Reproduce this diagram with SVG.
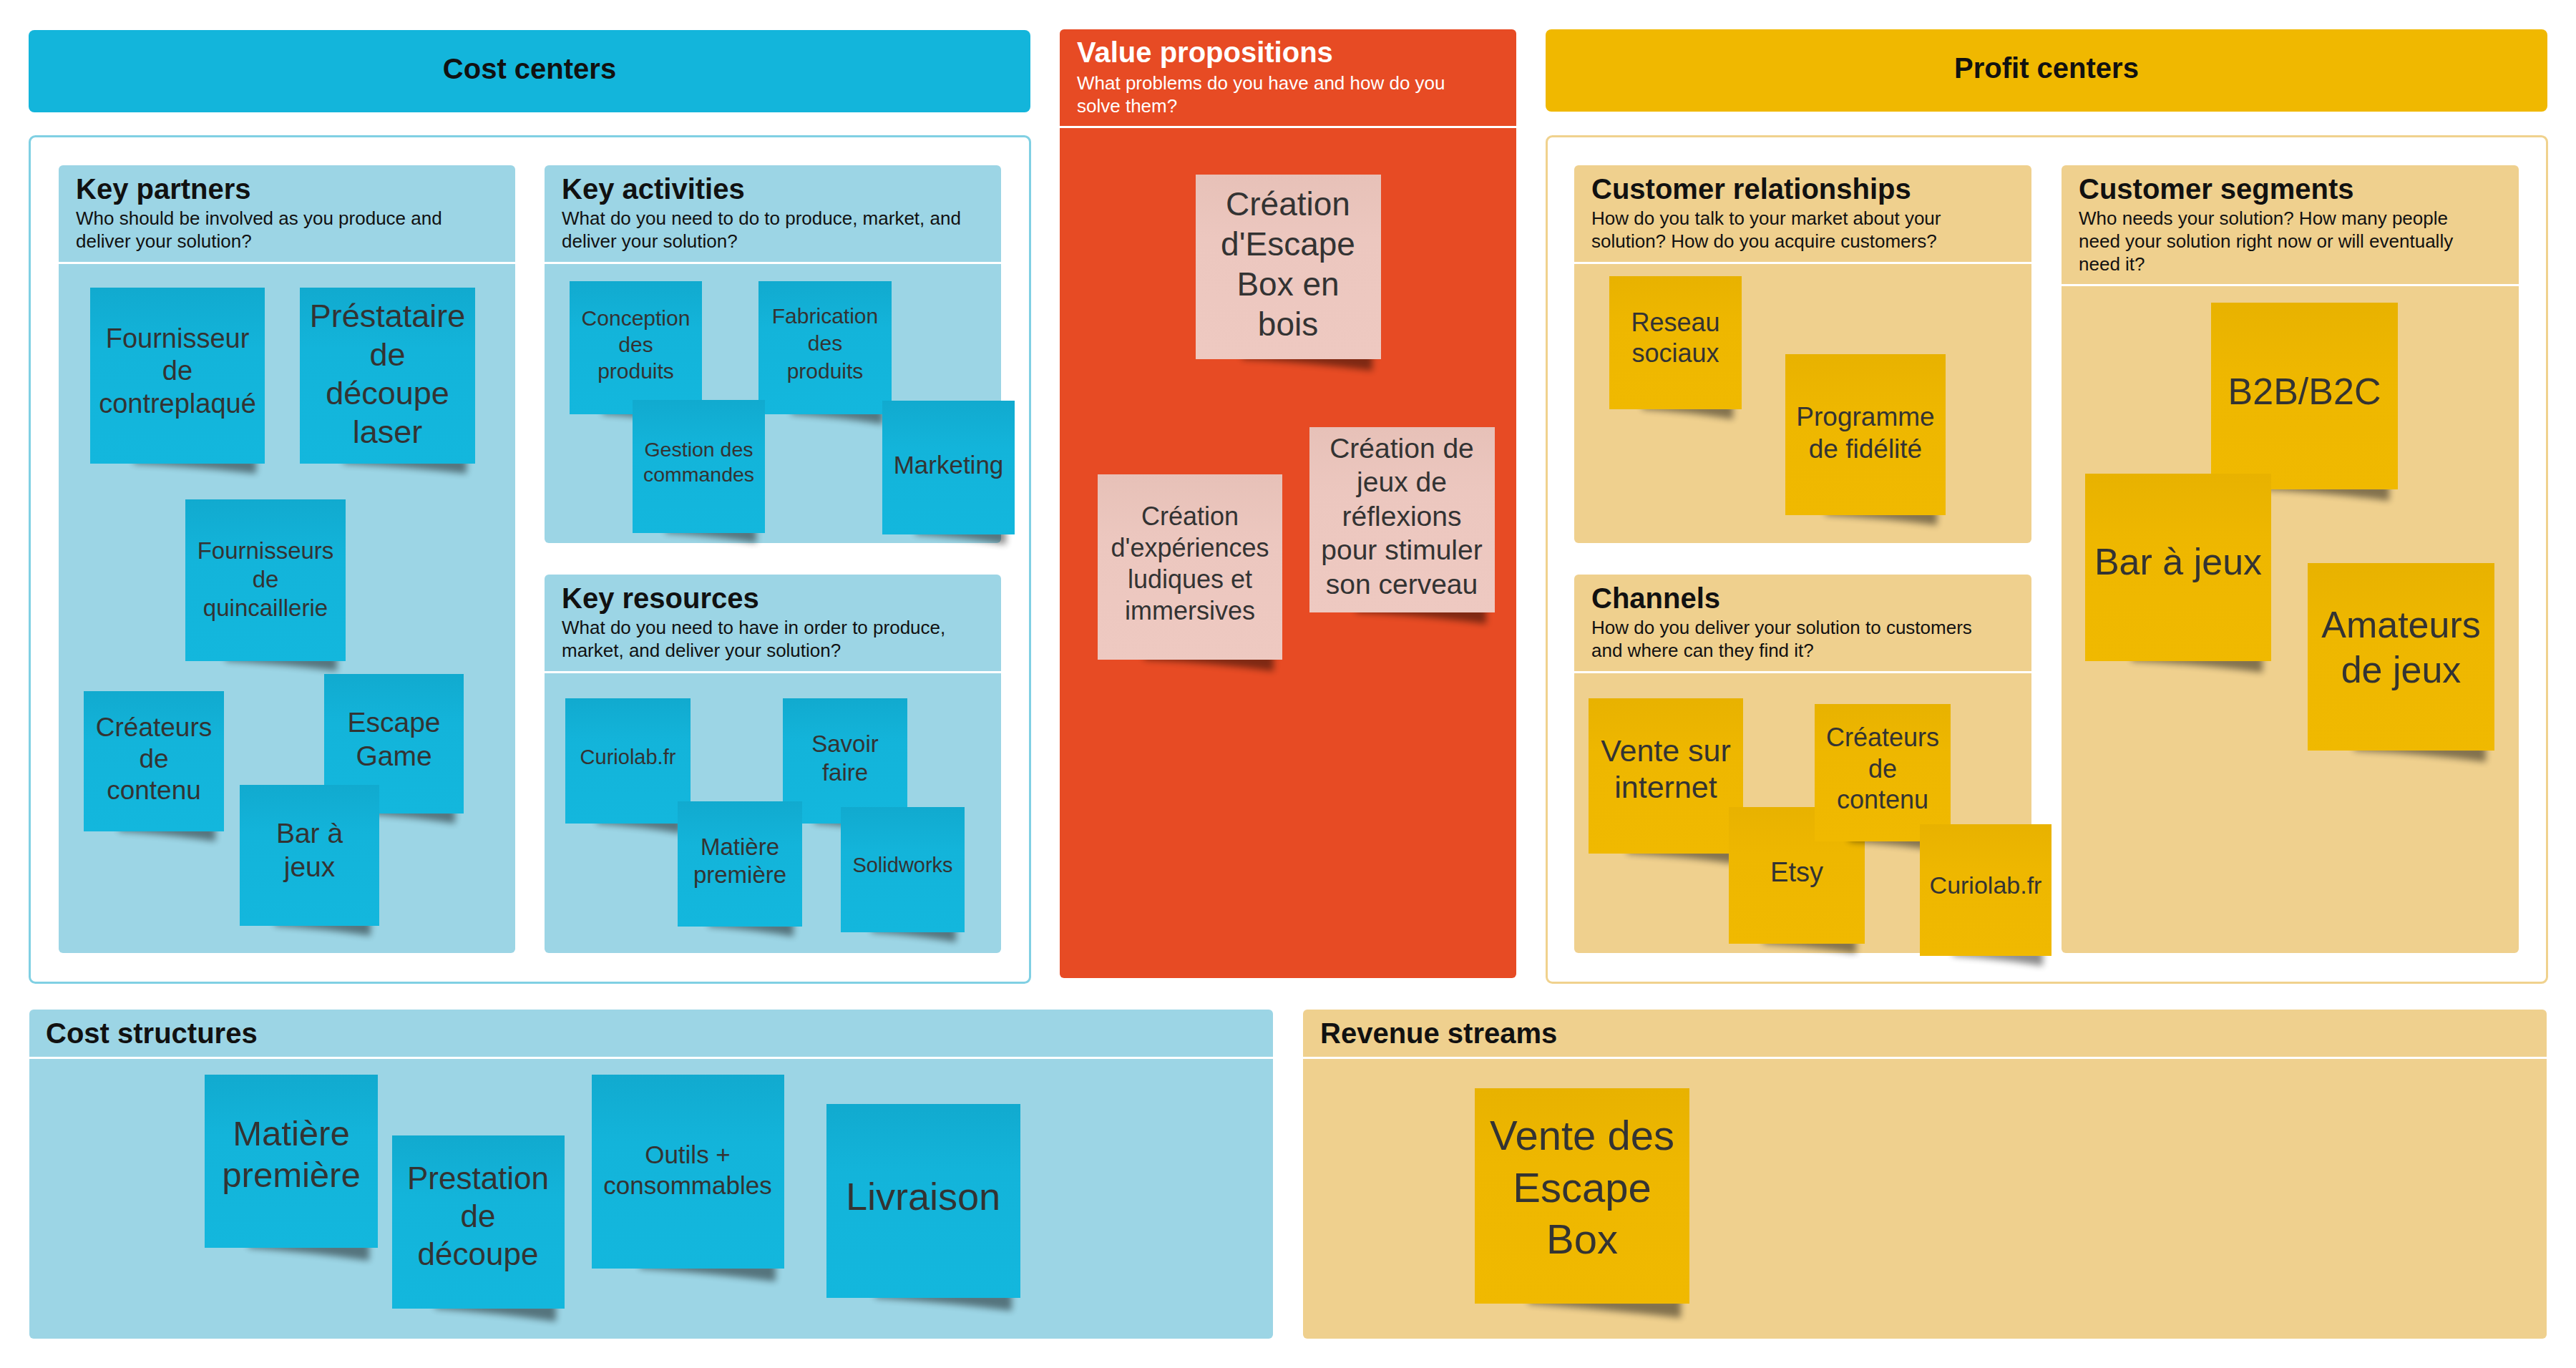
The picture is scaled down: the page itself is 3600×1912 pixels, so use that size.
<svg xmlns="http://www.w3.org/2000/svg" width="3600" height="1912" viewBox="0 0 3600 1912">
<defs>
<style>
text{font-family:"Liberation Sans",Arial,Helvetica,sans-serif}
.hd{font-weight:bold;font-size:40px;fill:#111;text-anchor:middle}
.ti{font-weight:bold;font-size:40px;fill:#111}
.su{font-size:26px;fill:#111}
.st{fill:#333;text-anchor:middle}
.pb{fill:#9CD5E5}
.py{fill:#EFD08E}
.dv{fill:#fff}
.shd{fill:#000;opacity:.45;filter:url(#sh)}
.nb{fill:url(#gb)}
.ny{fill:url(#gy)}
.np{fill:url(#gp)}
</style>
<filter id="sh" x="-30%" y="-200%" width="160%" height="500%"><feGaussianBlur stdDeviation="5"/></filter>
<linearGradient id="gb" x1="0" y1="0" x2="0" y2="1"><stop offset="0" stop-color="#11AACF"/><stop offset="0.35" stop-color="#13B4DA"/><stop offset="1" stop-color="#13B7DD"/></linearGradient>
<linearGradient id="gy" x1="0" y1="0" x2="0" y2="1"><stop offset="0" stop-color="#E8B200"/><stop offset="0.35" stop-color="#EEB700"/><stop offset="1" stop-color="#F0B900"/></linearGradient>
<linearGradient id="gp" x1="0" y1="0" x2="0" y2="1"><stop offset="0" stop-color="#E7C1B8"/><stop offset="0.35" stop-color="#ECC7BF"/><stop offset="1" stop-color="#EEC9C1"/></linearGradient>
</defs>
<rect width="3600" height="1912" fill="#fff"/>

<g id="cost-centers-header">
<rect x="40" y="42" width="1400" height="115" rx="8" fill="#13B5DB"/>
<text class="hd" x="740" y="110">Cost centers</text>
</g>
<g id="profit-centers-header">
<rect x="2160" y="41" width="1400" height="115" rx="8" fill="#F0B800"/>
<text class="hd" x="2860" y="109">Profit centers</text>
</g>
<g id="cost-frame"><rect x="41.5" y="190.5" width="1398" height="1183" rx="8" fill="#fff" stroke="#80D0E3" stroke-width="3"/></g>
<g id="profit-frame"><rect x="2161.5" y="190.5" width="1398" height="1183" rx="8" fill="#fff" stroke="#F0D28E" stroke-width="3"/></g>

<g id="key-partners">
<rect class="pb" x="82" y="231" width="638" height="1101" rx="6"/>
<rect class="dv" x="82" y="366" width="638" height="3"/>
<text class="ti" x="106" y="278">Key partners</text>
<text class="su" x="106" y="314">Who should be involved as you produce and</text>
<text class="su" x="106" y="346">deliver your solution?</text>
</g>
<g id="key-activities">
<rect class="pb" x="761" y="231" width="638" height="528" rx="6"/>
<rect class="dv" x="761" y="366" width="638" height="3"/>
<text class="ti" x="785" y="278">Key activities</text>
<text class="su" x="785" y="314">What do you need to do to produce, market, and</text>
<text class="su" x="785" y="346">deliver your solution?</text>
</g>
<g id="key-resources">
<rect class="pb" x="761" y="803" width="638" height="529" rx="6"/>
<rect class="dv" x="761" y="938" width="638" height="3"/>
<text class="ti" x="785" y="850">Key resources</text>
<text class="su" x="785" y="886">What do you need to have in order to produce,</text>
<text class="su" x="785" y="918">market, and deliver your solution?</text>
</g>
<g id="value-propositions">
<rect x="1481" y="41" width="638" height="1326" rx="6" fill="#E74B24"/>
<rect class="dv" x="1481" y="176" width="638" height="3"/>
<text class="ti" x="1505" y="87" style="fill:#fff">Value propositions</text>
<text class="su" x="1505" y="125" style="fill:#fff">What problems do you have and how do you</text>
<text class="su" x="1505" y="157" style="fill:#fff">solve them?</text>
</g>
<g id="customer-relationships">
<rect class="py" x="2200" y="231" width="639" height="528" rx="6"/>
<rect class="dv" x="2200" y="366" width="639" height="3"/>
<text class="ti" x="2224" y="278">Customer relationships</text>
<text class="su" x="2224" y="314">How do you talk to your market about your</text>
<text class="su" x="2224" y="346">solution? How do you acquire customers?</text>
</g>
<g id="channels">
<rect class="py" x="2200" y="803" width="639" height="529" rx="6"/>
<rect class="dv" x="2200" y="938" width="639" height="3"/>
<text class="ti" x="2224" y="850">Channels</text>
<text class="su" x="2224" y="886">How do you deliver your solution to customers</text>
<text class="su" x="2224" y="918">and where can they find it?</text>
</g>
<g id="customer-segments">
<rect class="py" x="2881" y="231" width="639" height="1101" rx="6"/>
<rect class="dv" x="2881" y="397" width="639" height="3"/>
<text class="ti" x="2905" y="278">Customer segments</text>
<text class="su" x="2905" y="314">Who needs your solution? How many people</text>
<text class="su" x="2905" y="346">need your solution right now or will eventually</text>
<text class="su" x="2905" y="378">need it?</text>
</g>
<g id="cost-structures">
<rect class="pb" x="41" y="1411" width="1738" height="460" rx="6"/>
<rect class="dv" x="41" y="1477" width="1738" height="3"/>
<text class="ti" x="64" y="1458">Cost structures</text>
</g>
<g id="revenue-streams">
<rect class="py" x="1821" y="1411" width="1738" height="460" rx="6"/>
<rect class="dv" x="1821" y="1477" width="1738" height="3"/>
<text class="ti" x="1845" y="1458">Revenue streams</text>
</g>

<g id="connectors"></g>

<!-- Key partners stickies -->
<g id="kp-fournisseur-contreplaque">
<path class="shd" d="M187,640 L358,640 L358,662 Q272,652 187,648 Z"/>
<rect class="nb" x="126" y="402" width="244" height="246"/>
<text class="st" font-size="38"><tspan x="248" y="486">Fournisseur</tspan><tspan x="248" y="531">de</tspan><tspan x="248" y="577">contreplaqué</tspan></text>
</g>
<g id="kp-prestataire-decoupe">
<path class="shd" d="M480,640 L652,640 L652,662 Q566,652 480,648 Z"/>
<rect class="nb" x="419" y="402" width="245" height="246"/>
<text class="st" font-size="45"><tspan x="541.5" y="457">Préstataire</tspan><tspan x="541.5" y="511">de</tspan><tspan x="541.5" y="565">découpe</tspan><tspan x="541.5" y="619">laser</tspan></text>
</g>
<g id="kp-fournisseurs-quincaillerie">
<path class="shd" d="M315,916 L471,916 L471,938 Q393,928 315,924 Z"/>
<rect class="nb" x="259" y="698" width="224" height="226"/>
<text class="st" font-size="33"><tspan x="371" y="781">Fournisseurs</tspan><tspan x="371" y="821">de</tspan><tspan x="371" y="861">quincaillerie</tspan></text>
</g>
<g id="kp-createurs-contenu">
<path class="shd" d="M166,1154 L301,1154 L301,1176 Q235,1166 166,1162 Z"/>
<rect class="nb" x="117" y="966" width="196" height="196"/>
<text class="st" font-size="37"><tspan x="215" y="1029">Créateurs</tspan><tspan x="215" y="1073">de</tspan><tspan x="215" y="1117">contenu</tspan></text>
</g>
<g id="kp-escape-game">
<path class="shd" d="M502,1129 L636,1129 L636,1151 Q570,1141 502,1137 Z"/>
<rect class="nb" x="453" y="942" width="195" height="195"/>
<text class="st" font-size="39"><tspan x="550.5" y="1023">Escape</tspan><tspan x="550.5" y="1070">Game</tspan></text>
</g>
<g id="kp-bar-a-jeux">
<path class="shd" d="M384,1286 L518,1286 L518,1308 Q452,1298 384,1294 Z"/>
<rect class="nb" x="335" y="1097" width="195" height="197"/>
<text class="st" font-size="39"><tspan x="432.5" y="1178">Bar à</tspan><tspan x="432.5" y="1225">jeux</tspan></text>
</g>

<!-- Key activities stickies -->
<g id="ka-conception">
<path class="shd" d="M842,571 L969,571 L969,593 Q907,583 842,579 Z"/>
<rect class="nb" x="796" y="393" width="185" height="186"/>
<text class="st" font-size="30"><tspan x="888.5" y="455">Conception</tspan><tspan x="888.5" y="492">des</tspan><tspan x="888.5" y="529">produits</tspan></text>
</g>
<g id="ka-fabrication">
<path class="shd" d="M1106,571 L1234,571 L1234,593 Q1172,583 1106,579 Z"/>
<rect class="nb" x="1060" y="393" width="186" height="186"/>
<text class="st" font-size="30"><tspan x="1153" y="452">Fabrication</tspan><tspan x="1153" y="490">des</tspan><tspan x="1153" y="529">produits</tspan></text>
</g>
<g id="ka-gestion-commandes">
<path class="shd" d="M930,737 L1057,737 L1057,759 Q995,749 930,745 Z"/>
<rect class="nb" x="884" y="559" width="185" height="186"/>
<text class="st" font-size="28.5"><tspan x="976.5" y="638">Gestion des</tspan><tspan x="976.5" y="673">commandes</tspan></text>
</g>
<g id="ka-marketing">
<path class="shd" d="M1279,739 L1406,739 L1406,761 Q1344,751 1279,747 Z"/>
<rect class="nb" x="1233" y="560" width="185" height="187"/>
<text class="st" font-size="35"><tspan x="1325.5" y="662">Marketing</tspan></text>
</g>

<!-- Key resources stickies -->
<g id="kr-curiolab">
<path class="shd" d="M834,1143 L953,1143 L953,1165 Q895,1155 834,1151 Z"/>
<rect class="nb" x="790" y="976" width="175" height="175"/>
<text class="st" font-size="29"><tspan x="877.5" y="1068">Curiolab.fr</tspan></text>
</g>
<g id="kr-savoir-faire">
<path class="shd" d="M1138,1143 L1256,1143 L1256,1165 Q1198,1155 1138,1151 Z"/>
<rect class="nb" x="1094" y="976" width="174" height="175"/>
<text class="st" font-size="33"><tspan x="1181" y="1051">Savoir</tspan><tspan x="1181" y="1091">faire</tspan></text>
</g>
<g id="kr-matiere-premiere">
<path class="shd" d="M990,1287 L1109,1287 L1109,1309 Q1051,1299 990,1295 Z"/>
<rect class="nb" x="947" y="1120" width="174" height="175"/>
<text class="st" font-size="33"><tspan x="1034" y="1195">Matière</tspan><tspan x="1034" y="1234">première</tspan></text>
</g>
<g id="kr-solidworks">
<path class="shd" d="M1218,1295 L1336,1295 L1336,1317 Q1279,1307 1218,1303 Z"/>
<rect class="nb" x="1175" y="1128" width="173" height="175"/>
<text class="st" font-size="29"><tspan x="1261.5" y="1219">Solidworks</tspan></text>
</g>

<!-- Value propositions stickies -->
<g id="vp-escape-box-bois">
<path class="shd" d="M1736,494 L1918,494 L1918,518 Q1826,506 1736,502 Z"/>
<rect class="np" x="1671" y="244" width="259" height="258"/>
<text class="st" font-size="46"><tspan x="1800" y="301">Création</tspan><tspan x="1800" y="357">d'Escape</tspan><tspan x="1800" y="413">Box en</tspan><tspan x="1800" y="469">bois</tspan></text>
</g>
<g id="vp-experiences">
<path class="shd" d="M1599,914 L1780,914 L1780,938 Q1689,926 1599,922 Z"/>
<rect class="np" x="1534" y="663" width="258" height="259"/>
<text class="st" font-size="36"><tspan x="1663" y="734">Création</tspan><tspan x="1663" y="778">d'expériences</tspan><tspan x="1663" y="822">ludiques et</tspan><tspan x="1663" y="866">immersives</tspan></text>
</g>
<g id="vp-jeux-reflexions">
<path class="shd" d="M1895,848 L2077,848 L2077,872 Q1985,860 1895,856 Z"/>
<rect class="np" x="1830" y="597" width="259" height="259"/>
<text class="st" font-size="39"><tspan x="1959" y="640">Création de</tspan><tspan x="1959" y="687">jeux de</tspan><tspan x="1959" y="735">réflexions</tspan><tspan x="1959" y="782">pour stimuler</tspan><tspan x="1959" y="830">son cerveau</tspan></text>
</g>

<!-- Customer relationships stickies -->
<g id="cr-reseau-sociaux">
<path class="shd" d="M2295,564 L2422,564 L2422,586 Q2360,576 2295,572 Z"/>
<rect class="ny" x="2249" y="386" width="185" height="186"/>
<text class="st" font-size="36"><tspan x="2341.5" y="463">Reseau</tspan><tspan x="2341.5" y="506">sociaux</tspan></text>
</g>
<g id="cr-programme-fidelite">
<path class="shd" d="M2551,712 L2707,712 L2707,734 Q2629,724 2551,720 Z"/>
<rect class="ny" x="2495" y="495" width="224" height="225"/>
<text class="st" font-size="37"><tspan x="2607" y="595">Programme</tspan><tspan x="2607" y="640">de fidélité</tspan></text>
</g>

<!-- Channels stickies -->
<g id="ch-vente-internet">
<path class="shd" d="M2274,1185 L2424,1185 L2424,1207 Q2350,1197 2274,1193 Z"/>
<rect class="ny" x="2220" y="976" width="216" height="217"/>
<text class="st" font-size="43"><tspan x="2328" y="1064">Vente sur</tspan><tspan x="2328" y="1115">internet</tspan></text>
</g>
<g id="ch-etsy">
<path class="shd" d="M2464,1311 L2594,1311 L2594,1333 Q2530,1323 2464,1319 Z"/>
<rect class="ny" x="2416" y="1128" width="190" height="191"/>
<text class="st" font-size="38"><tspan x="2511" y="1232">Etsy</tspan></text>
</g>
<g id="ch-createurs-contenu">
<path class="shd" d="M2584,1168 L2714,1168 L2714,1190 Q2650,1180 2584,1176 Z"/>
<rect class="ny" x="2536" y="984" width="190" height="192"/>
<text class="st" font-size="36"><tspan x="2631" y="1043">Créateurs</tspan><tspan x="2631" y="1087">de</tspan><tspan x="2631" y="1130">contenu</tspan></text>
</g>
<g id="ch-curiolab">
<path class="shd" d="M2729,1328 L2855,1328 L2855,1350 Q2793,1340 2729,1336 Z"/>
<rect class="ny" x="2683" y="1152" width="184" height="184"/>
<text class="st" font-size="34"><tspan x="2775" y="1249">Curiolab.fr</tspan></text>
</g>

<!-- Customer segments stickies -->
<g id="cs-b2b-b2c">
<path class="shd" d="M3155,676 L3339,676 L3339,700 Q3247,688 3155,684 Z"/>
<rect class="ny" x="3090" y="423" width="261" height="261"/>
<text class="st" font-size="52"><tspan x="3220.5" y="565">B2B/B2C</tspan></text>
</g>
<g id="cs-bar-a-jeux">
<path class="shd" d="M2979,916 L3162,916 L3162,940 Q3070,928 2979,924 Z"/>
<rect class="ny" x="2914" y="662" width="260" height="262"/>
<text class="st" font-size="52"><tspan x="3044" y="803">Bar à jeux</tspan></text>
</g>
<g id="cs-amateurs-jeux">
<path class="shd" d="M3290,1041 L3474,1041 L3474,1065 Q3382,1053 3290,1049 Z"/>
<rect class="ny" x="3225" y="787" width="261" height="262"/>
<text class="st" font-size="52"><tspan x="3355.5" y="891">Amateurs</tspan><tspan x="3355.5" y="954">de jeux</tspan></text>
</g>

<!-- Cost structures stickies -->
<g id="cst-matiere-premiere">
<path class="shd" d="M347,1736 L516,1736 L516,1762 Q431,1750 347,1744 Z"/>
<rect class="nb" x="286" y="1502" width="242" height="242"/>
<text class="st" font-size="49"><tspan x="407" y="1601">Matière</tspan><tspan x="407" y="1659">première</tspan></text>
</g>
<g id="cst-prestation-decoupe">
<path class="shd" d="M608,1821 L777,1821 L777,1847 Q693,1835 608,1829 Z"/>
<rect class="nb" x="548" y="1587" width="241" height="242"/>
<text class="st" font-size="44"><tspan x="668" y="1662">Prestation</tspan><tspan x="668" y="1715">de</tspan><tspan x="668" y="1768">découpe</tspan></text>
</g>
<g id="cst-outils-consommables">
<path class="shd" d="M894,1765 L1084,1765 L1084,1791 Q988,1779 894,1773 Z"/>
<rect class="nb" x="827" y="1502" width="269" height="271"/>
<text class="st" font-size="35"><tspan x="961" y="1626">Outils +</tspan><tspan x="961" y="1669">consommables</tspan></text>
</g>
<g id="cst-livraison">
<path class="shd" d="M1223,1806 L1414,1806 L1414,1832 Q1318,1820 1223,1814 Z"/>
<rect class="nb" x="1155" y="1543" width="271" height="271"/>
<text class="st" font-size="54"><tspan x="1290" y="1691">Livraison</tspan></text>
</g>

<!-- Revenue streams sticky -->
<g id="rs-vente-escape-box">
<path class="shd" d="M2136,1814 L2349,1814 L2349,1842 Q2241,1830 2136,1822 Z"/>
<rect class="ny" x="2061" y="1521" width="300" height="301"/>
<text class="st" font-size="58"><tspan x="2211" y="1607">Vente des</tspan><tspan x="2211" y="1680">Escape</tspan><tspan x="2211" y="1752">Box</tspan></text>
</g>
</svg>
